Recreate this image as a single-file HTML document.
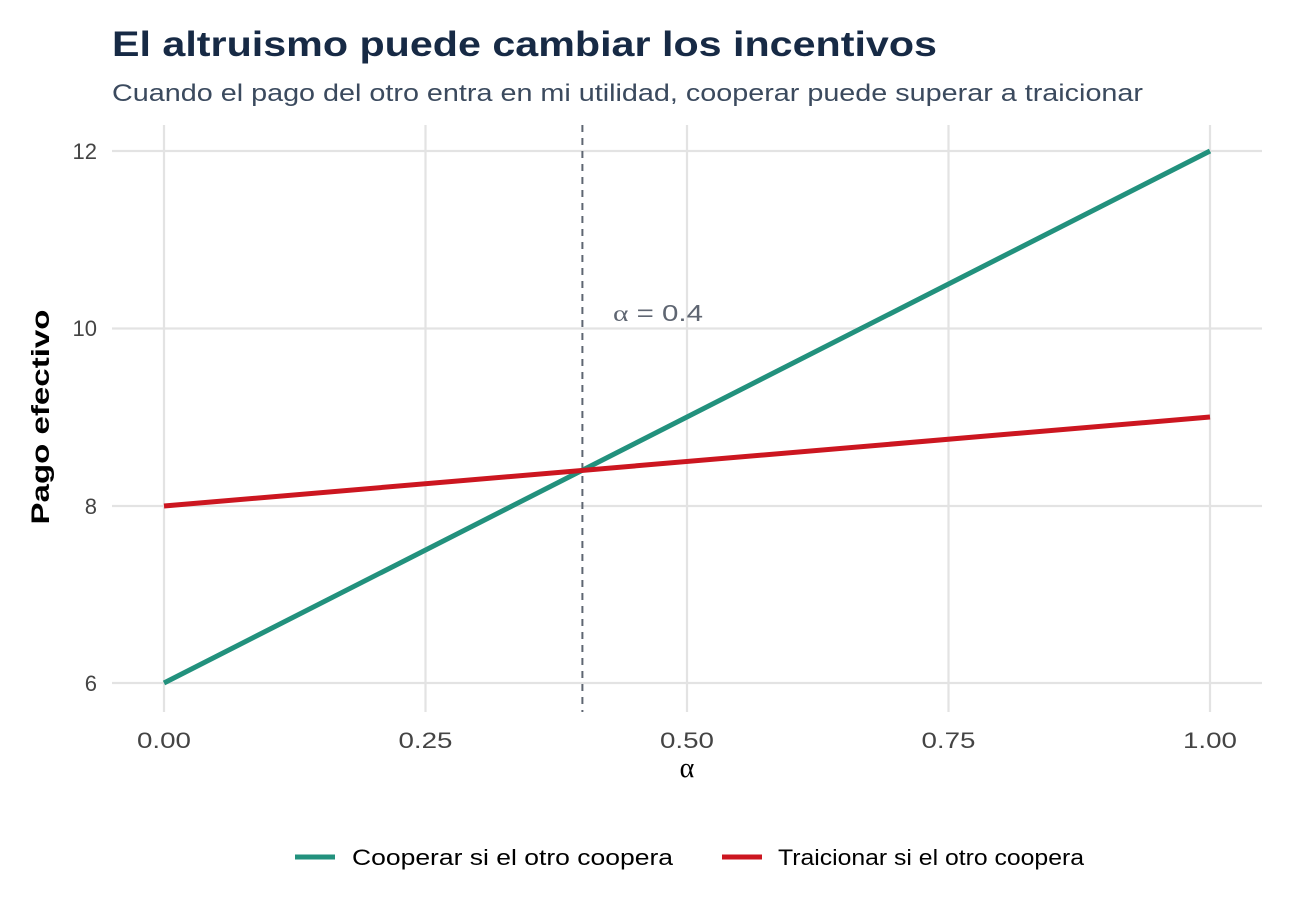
<!DOCTYPE html>
<html><head><meta charset="utf-8"><style>
html,body{margin:0;padding:0;background:#fff;}
svg{display:block;font-family:"Liberation Sans",Arial,sans-serif;}
</style></head><body>
<svg width="1305" height="921" viewBox="0 0 1305 921" xmlns="http://www.w3.org/2000/svg">
<rect width="1305" height="921" fill="#fff"/>
<text x="112" y="56" font-size="35" font-weight="bold" fill="#172a45" textLength="825" lengthAdjust="spacingAndGlyphs">El altruismo puede cambiar los incentivos</text>
<text x="112" y="101" font-size="24" fill="#3b4a5e" textLength="1031" lengthAdjust="spacingAndGlyphs">Cuando el pago del otro entra en mi utilidad, cooperar puede superar a traicionar</text>
<g stroke="#e3e3e3" stroke-width="2.2">
<line x1="164" y1="125" x2="164" y2="712"/>
<line x1="425.5" y1="125" x2="425.5" y2="712"/>
<line x1="687" y1="125" x2="687" y2="712"/>
<line x1="948.5" y1="125" x2="948.5" y2="712"/>
<line x1="1210" y1="125" x2="1210" y2="712"/>
<line x1="112" y1="151" x2="1262" y2="151"/>
<line x1="112" y1="328.5" x2="1262" y2="328.5"/>
<line x1="112" y1="506" x2="1262" y2="506"/>
<line x1="112" y1="683" x2="1262" y2="683"/>
</g>
<line x1="582.4" y1="125" x2="582.4" y2="712" stroke="#5f6672" stroke-width="2" stroke-dasharray="7,6"/>
<line x1="164" y1="683" x2="1210" y2="151" stroke="#22917d" stroke-width="5"/>
<line x1="164" y1="506" x2="1210" y2="417" stroke="#cc1620" stroke-width="5"/>
<text x="613" y="321" font-size="23" fill="#5f6672" textLength="90" lengthAdjust="spacingAndGlyphs"><tspan font-family="Liberation Serif,serif">α</tspan> = 0.4</text>
<g font-size="22" fill="#444" text-anchor="end">
<text x="97" y="159">12</text><text x="97" y="336">10</text><text x="97" y="514">8</text><text x="97" y="691">6</text>
</g>
<g font-size="22" fill="#444" text-anchor="middle">
<text x="164" y="748" textLength="54" lengthAdjust="spacingAndGlyphs">0.00</text><text x="425.5" y="748" textLength="54" lengthAdjust="spacingAndGlyphs">0.25</text><text x="687" y="748" textLength="54" lengthAdjust="spacingAndGlyphs">0.50</text><text x="948.5" y="748" textLength="54" lengthAdjust="spacingAndGlyphs">0.75</text><text x="1210" y="748" textLength="54" lengthAdjust="spacingAndGlyphs">1.00</text>
</g>
<text x="687" y="777" font-size="28" text-anchor="middle" fill="#000" font-family="Liberation Serif,serif">α</text>
<text transform="translate(49,417) rotate(-90)" font-size="25" font-weight="bold" text-anchor="middle" fill="#000" textLength="215" lengthAdjust="spacingAndGlyphs">Pago efectivo</text>
<line x1="295" y1="857" x2="335" y2="857" stroke="#22917d" stroke-width="5"/>
<text x="352" y="865" font-size="22" fill="#000" textLength="321" lengthAdjust="spacingAndGlyphs">Cooperar si el otro coopera</text>
<line x1="722" y1="857" x2="762" y2="857" stroke="#cc1620" stroke-width="5"/>
<text x="778" y="865" font-size="22" fill="#000" textLength="306" lengthAdjust="spacingAndGlyphs">Traicionar si el otro coopera</text>
</svg>
</body></html>
